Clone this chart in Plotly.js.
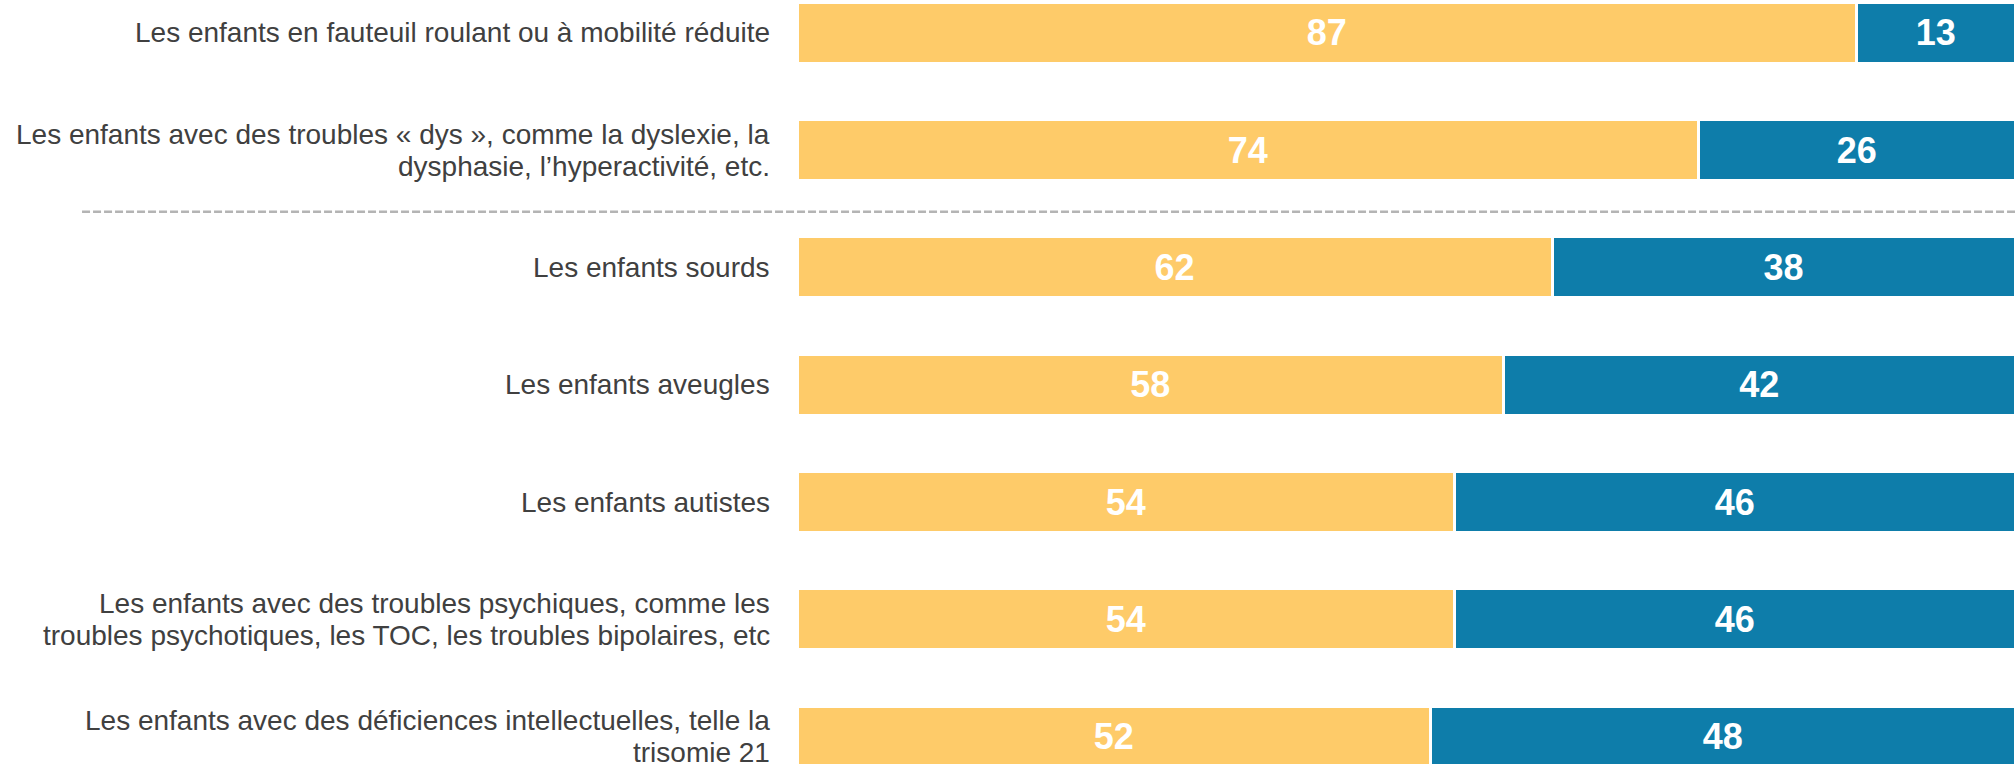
<!DOCTYPE html>
<html>
<head>
<meta charset="utf-8">
<script src="https://cdn.plot.ly/plotly-3.0.1.min.js"></script>
<style>html,body{margin:0;padding:0;background:#fff;}#chart{width:2015px;height:764px;}</style>
</head>
<body>
<div id="chart"></div>
<script>
const categories = [
  "Les enfants en fauteuil roulant ou à mobilité réduite",
  "Les enfants avec des troubles « dys », comme la dyslexie, la<br>dysphasie, l’hyperactivité, etc.",
  "Les enfants sourds",
  "Les enfants aveugles",
  "Les enfants autistes",
  "Les enfants avec des troubles psychiques, comme les<br>troubles psychotiques, les TOC, les troubles bipolaires, etc",
  "Les enfants avec des déficiences intellectuelles, telle la<br>trisomie 21"
];
const seriesYellow = [87, 74, 62, 58, 54, 54, 52];
const seriesBlue = [13, 26, 38, 42, 46, 46, 48];

const barFont = {family: "Liberation Sans, Arial, sans-serif", size: 36, color: "#ffffff", weight: "bold"};
const labelFont = {family: "Liberation Sans, Arial, sans-serif", size: 28, color: "#404040"};
const LINE_GAP = 32;

function mkTrace(vals, color) {
  return {
    type: "bar",
    orientation: "h",
    y: categories,
    x: vals,
    width: 0.52,
    marker: {color: color, line: {color: "#ffffff", width: 3}},
    text: vals.map(String),
    textposition: "inside",
    insidetextanchor: "middle",
    constraintext: "none",
    textfont: barFont,
    hoverinfo: "skip",
    showlegend: false
  };
}

const data = [mkTrace(seriesYellow, "#FECB69"), mkTrace(seriesBlue, "#0E7DAA")];

// category labels drawn as annotations (one per line, to match the tighter line spacing)
const annotations = [];
categories.forEach(function (cat) {
  const lines = cat.split("<br>");
  const n = lines.length;
  lines.forEach(function (ln, j) {
    annotations.push({
      xref: "paper", yref: "y",
      x: 0, y: cat,
      xanchor: "right", yanchor: "middle",
      xshift: -25,
      yshift: -((j - (n - 1) / 2) * LINE_GAP),
      text: ln,
      showarrow: false,
      align: "right",
      font: labelFont
    });
  });
});

const layout = {
  width: 2015,
  height: 764,
  margin: {l: 797, r: 0, t: 0, b: 0, pad: 0},
  paper_bgcolor: "#ffffff",
  plot_bgcolor: "#ffffff",
  barmode: "stack",
  bargap: 0,
  xaxis: {range: [0, 100], visible: false, fixedrange: true},
  yaxis: {
    type: "category",
    range: [6.233, -0.28],
    autorange: false,
    showgrid: false,
    zeroline: false,
    showline: false,
    ticks: "",
    showticklabels: false,
    fixedrange: true
  },
  annotations: annotations,
  shapes: [{
    type: "line",
    xref: "paper",
    yref: "y",
    x0: -0.587,
    x1: 1,
    y0: 1.525,
    y1: 1.525,
    line: {color: "#b4b4b4", width: 2.5, dash: "8px,3px"}
  }]
};

Plotly.newPlot("chart", data, layout, {displayModeBar: false, staticPlot: true});
</script>
</body>
</html>
